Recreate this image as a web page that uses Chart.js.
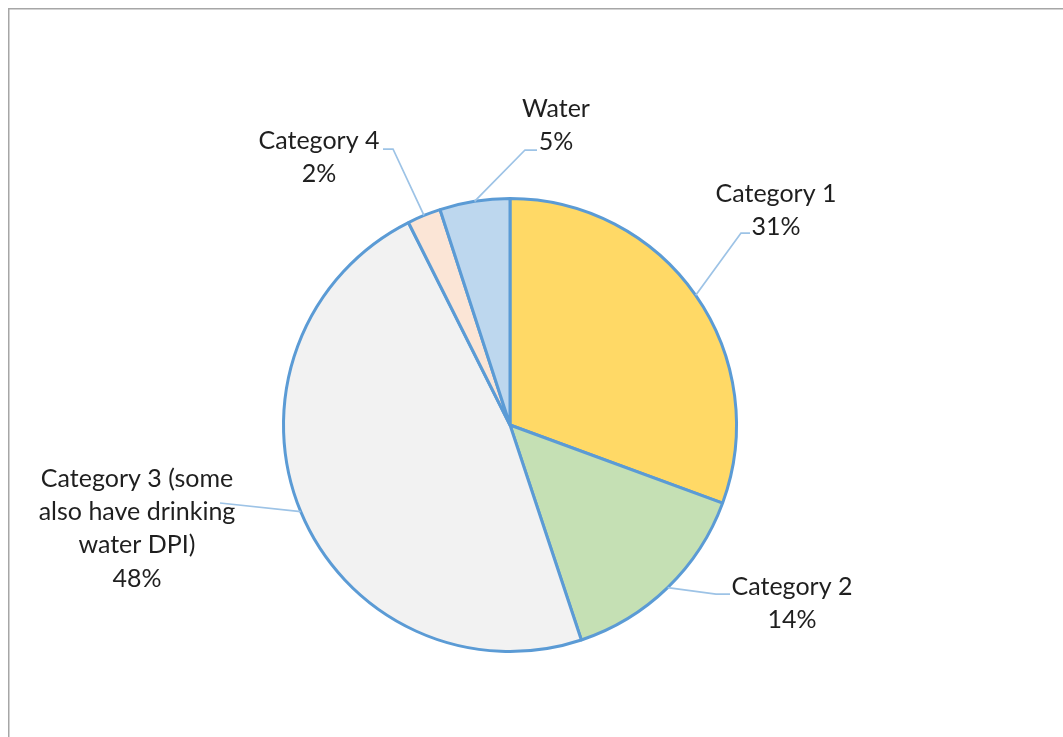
<!DOCTYPE html>
<html>
<head>
<meta charset="utf-8">
<script src="https://cdn.jsdelivr.net/npm/chart.js@4/dist/chart.umd.min.js"></script>
<style>
  html, body { margin: 0; padding: 0; background: #fff; }
  #wrap { position: relative; width: 1063px; height: 737px; }
</style>
</head>
<body>
<div id="wrap"><canvas id="pie" width="1063" height="737"></canvas></div>
<script>
// data (share of the whole, clockwise from 12 o'clock)
const categories = ['Category 1', 'Category 2', 'Category 3 (some also have drinking water DPI)', 'Category 4', 'Water'];
const shares = [30.6, 14.3, 47.7, 2.4, 5.0];
const sliceColors = ['#FFD966', '#C5E0B4', '#F2F2F2', '#FBE5D6', '#BDD7EE'];

// label text broken into lines like the original
const labelLines = [
  ['Category 1'],
  ['Category 2'],
  ['Category 3 (some', 'also have drinking', 'water DPI)'],
  ['Category 4'],
  ['Water']
];

// where each label sits: centre x, first baseline y, leader elbow and leader end
const labelBoxes = [
  { x: 776, y: 202, elbow: [741, 233], end: [750, 233] },
  { x: 792, y: 595, elbow: [716, 594], end: [730, 594] },
  { x: 137, y: 487, elbow: null, end: [220, 503] },
  { x: 319, y: 149, elbow: [393, 149], end: [383, 149] },
  { x: 556, y: 117, elbow: [525, 150], end: [537, 150] }
];

const FONT = '25px Lato';
const LINE_H = 33.2;

const total = shares.reduce((a, b) => a + b, 0);

const frame = {
  id: 'frame',
  beforeDraw(chart) {
    const ctx = chart.ctx;
    ctx.save();
    ctx.fillStyle = '#fff';
    ctx.fillRect(0, 0, chart.width, chart.height);
    ctx.strokeStyle = '#A6A6A6';
    ctx.lineWidth = 1.5;
    ctx.strokeRect(8.75, 8.75, 1200, 900);
    ctx.restore();
  }
};

const pieLabels = {
  id: 'pieLabels',
  afterDatasetsDraw(chart) {
    const ctx = chart.ctx;
    const arcs = chart.getDatasetMeta(0).data;
    ctx.save();
    arcs.forEach((arc, i) => {
      const box = labelBoxes[i];
      const mid = (arc.startAngle + arc.endAngle) / 2;
      const ax = arc.x + Math.cos(mid) * arc.outerRadius;
      const ay = arc.y + Math.sin(mid) * arc.outerRadius;
      // leader line
      ctx.strokeStyle = '#9DC3E6';
      ctx.lineWidth = 1.75;
      ctx.beginPath();
      ctx.moveTo(ax, ay);
      if (box.elbow) ctx.lineTo(box.elbow[0], box.elbow[1]);
      ctx.lineTo(box.end[0], box.end[1]);
      ctx.stroke();
      // text
      const pct = Math.round(shares[i] / total * 100) + '%';
      const lines = labelLines[i].concat([pct]);
      ctx.fillStyle = '#1f1f1f';
      ctx.font = FONT;
      ctx.textAlign = 'center';
      ctx.textBaseline = 'alphabetic';
      lines.forEach((t, k) => ctx.fillText(t, box.x, box.y + k * LINE_H));
    });
    ctx.restore();
  }
};

new Chart(document.getElementById('pie'), {
  type: 'pie',
  data: {
    labels: categories,
    datasets: [{
      data: shares,
      backgroundColor: sliceColors,
      borderColor: '#5B9BD5',
      borderWidth: 3
    }]
  },
  options: {
    responsive: false,
    animation: false,
    layout: { padding: { left: 282, right: 325, top: 197, bottom: 84 } },
    plugins: {
      legend: { display: false },
      tooltip: { enabled: false }
    }
  },
  plugins: [frame, pieLabels]
});
</script>
</body>
</html>
